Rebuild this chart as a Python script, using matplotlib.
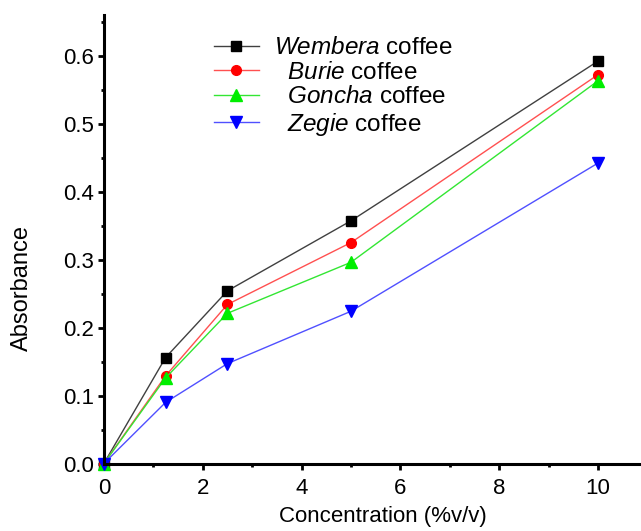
import matplotlib.pyplot as plt
from matplotlib.ticker import MultipleLocator

plt.rcParams['font.family'] = ['Liberation Sans', 'DejaVu Sans']
plt.rcParams['mathtext.fontset'] = 'custom'
plt.rcParams['mathtext.rm'] = 'Liberation Sans'
plt.rcParams['mathtext.it'] = 'Liberation Sans:italic'

conc = [0, 1.25, 2.5, 5, 10]
wembera = [0.0, 0.156, 0.254, 0.357, 0.592]
burie = [0.0, 0.129, 0.234, 0.325, 0.572]
goncha = [0.0, 0.126, 0.221, 0.296, 0.563]
zegie = [0.0, 0.090, 0.147, 0.224, 0.442]

labels = [r'$\it{Wembera}$ coffee', r'  $\it{Burie}$ coffee',
          r'  $\it{Goncha}$ coffee', r'  $\it{Zegie}$ coffee']

fig = plt.figure(figsize=(6.41, 5.31), dpi=100)
ax = fig.add_axes([0.162, 0.127, 0.838, 0.845])

ax.plot(conc, wembera, color='#404040', lw=1, marker='s', ms=7,
        mfc='black', mec='black', label=labels[0], clip_on=False)
ax.plot(conc, burie, color='#ff5050', lw=1, marker='o', ms=7,
        mfc='red', mec='red', label=labels[1], clip_on=False)
ax.plot(conc, goncha, color='#33e633', lw=1, marker='^', ms=8,
        mfc='#00ee00', mec='#00ee00', label=labels[2], clip_on=False)
ax.plot(conc, zegie, color='#5050ff', lw=1, marker='v', ms=8,
        mfc='blue', mec='blue', label=labels[3], clip_on=False)

ax.set_xlim(0, 10.87)
ax.set_ylim(0, 0.66)
ax.xaxis.set_major_locator(MultipleLocator(2))
ax.xaxis.set_minor_locator(MultipleLocator(1))
ax.yaxis.set_major_locator(MultipleLocator(0.1))
ax.yaxis.set_minor_locator(MultipleLocator(0.05))
ax.yaxis.set_major_formatter(plt.FormatStrFormatter('%.1f'))

for side in ['top', 'right']:
    ax.spines[side].set_visible(False)
for side in ['left', 'bottom']:
    ax.spines[side].set_linewidth(2.2)

ax.tick_params(which='major', direction='out', length=4, width=2, labelsize=16)
ax.tick_params(which='minor', direction='out', length=2.2, width=2)
ax.tick_params(axis='x', which='major', pad=6.5)
ax.tick_params(axis='y', which='major', pad=3)

ax.set_xlabel('Concentration (%v/v)', fontsize=16)
ax.set_ylabel('Absorbance', fontsize=17)
ax.xaxis.set_label_coords(0.52, -0.095)
ax.yaxis.set_label_coords(-0.132, 0.392)

leg = ax.legend(loc='upper left', bbox_to_anchor=(0.205, 0.95), frameon=False,
                fontsize=17.5, handlelength=1.85, labelspacing=0.1,
                handletextpad=0.6, borderaxespad=0, borderpad=0)

fig.savefig('out.png', dpi=100)
